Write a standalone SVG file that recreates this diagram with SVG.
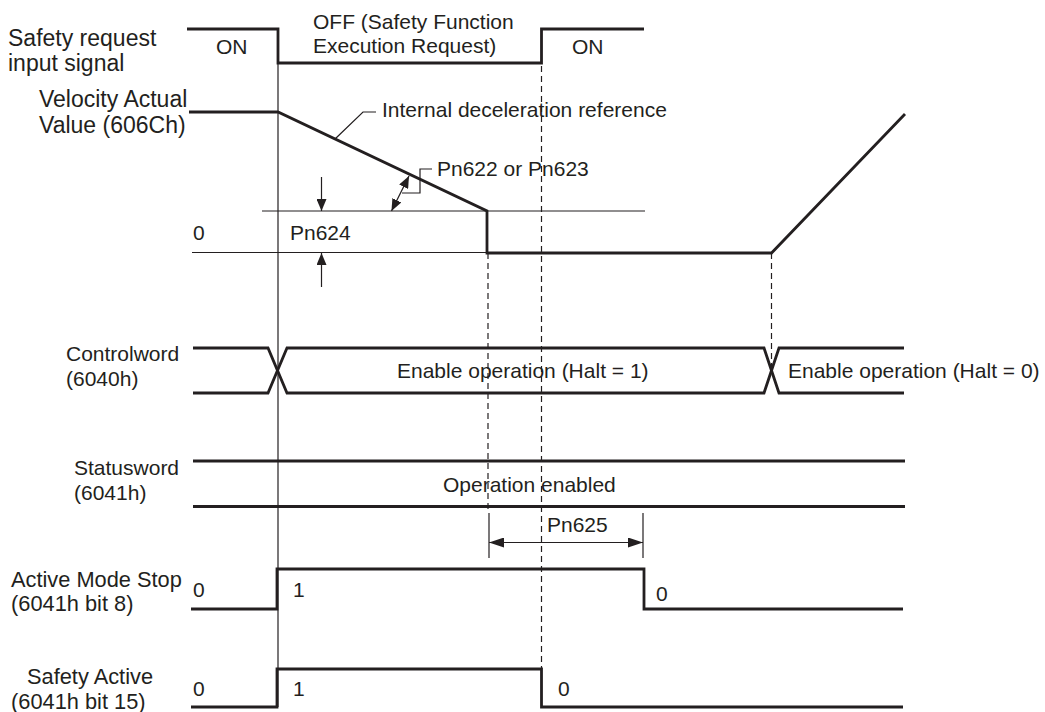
<svg xmlns="http://www.w3.org/2000/svg" width="1045" height="712" viewBox="0 0 1045 712">
<style>
text{font-family:"Liberation Sans",Arial,sans-serif;font-size:21px;fill:#231f20}
text.big{font-size:23px}
.sig{fill:none;stroke:#231f20;stroke-width:2.8;stroke-linejoin:miter}
.thin{fill:none;stroke:#231f20;stroke-width:1.2}
.dash{fill:none;stroke:#231f20;stroke-width:1.2;stroke-dasharray:6,4}
</style>
<defs>
<marker id="ah" viewBox="0 0 12 10" refX="12" refY="5" markerWidth="12" markerHeight="10" markerUnits="userSpaceOnUse" orient="auto-start-reverse">
<path d="M0,0 L12,5 L0,10 Z" fill="#231f20"/>
</marker>
<marker id="ah2" viewBox="0 0 15 10" refX="15" refY="5" markerWidth="15" markerHeight="10" markerUnits="userSpaceOnUse" orient="auto-start-reverse">
<path d="M0,0 L15,5 L0,10 Z" fill="#231f20"/>
</marker>
</defs>

<g id="labels">
<text class="big" x="8" y="46">Safety request</text>
<text class="big" x="8" y="71">input signal</text>
<text class="big" x="39" y="107">Velocity Actual</text>
<text class="big" x="39" y="133">Value (606Ch)</text>
<text x="66" y="361">Controlword</text>
<text x="66" y="386">(6040h)</text>
<text x="74" y="475">Statusword</text>
<text x="74" y="500">(6041h)</text>
<text x="11" y="587" style="font-size:21.8px">Active Mode Stop</text>
<text x="11" y="611" style="font-size:21.8px">(6041h bit 8)</text>
<text x="27" y="684" style="font-size:21.8px">Safety Active</text>
<text x="11" y="709" style="font-size:21.8px">(6041h bit 15)</text>
</g>

<g id="safety-request">
<path class="sig" d="M187,29 H278 V63 H541.5 V29 H644"/>
<text x="216" y="54">ON</text>
<text x="313" y="29">OFF (Safety Function</text>
<text x="313" y="53">Execution Request)</text>
<text x="572" y="54">ON</text>
</g>

<g id="velocity">
<path class="thin" d="M262,211 H645"/>
<path class="thin" d="M192,252.5 H488"/>
<path class="sig" d="M189,112 H278 L487,211 V253 H771.5 L905,114"/>
<text x="193" y="240">0</text>
<text x="290" y="240">Pn624</text>
<text x="382" y="117">Internal deceleration reference</text>
<text x="437" y="176">Pn622 or Pn623</text>
</g>

<g id="controlword">
<path class="sig" d="M193,348 H268 L287,393 H764 L779,348 H904"/>
<path class="sig" d="M193,393 H268 L287,348 H764 L779,393 H904"/>
<text x="397" y="378">Enable operation (Halt = 1)</text>
<text x="788" y="378">Enable operation (Halt = 0)</text>
</g>

<g id="statusword">
<path class="sig" d="M193,461 H905"/>
<path class="sig" d="M193,506.5 H905"/>
<text x="443" y="492">Operation enabled</text>
</g>

<g id="active-mode-stop">
<path class="sig" d="M191,609 H277 V569 H644 V609 H903"/>
<text x="193" y="597">0</text>
<text x="293" y="597">1</text>
<text x="656" y="601">0</text>
</g>

<g id="safety-active">
<path class="sig" d="M191,707 H277 V669 H541.5 V707 H903"/>
<text x="193" y="696">0</text>
<text x="293" y="696">1</text>
<text x="558" y="696">0</text>
</g>

<g id="connectors">
<path class="thin" d="M278,63 V707"/>
<path class="dash" d="M541.5,66 V669"/>
<path class="dash" d="M488,253 V513"/>
<path class="dash" d="M771.5,253 V370"/>
<path class="thin" d="M335,139 L363,112 H376"/>
<path class="thin" d="M432,169 H420 V193 H402"/>
<path class="thin" d="M409,176 L391.5,211" marker-start="url(#ah)" marker-end="url(#ah)"/>
<path class="thin" d="M321.5,177 V211" marker-end="url(#ah)"/>
<path class="thin" d="M321.5,287 V253" marker-end="url(#ah)"/>
<path class="thin" d="M489,513 V558"/>
<path class="thin" d="M643,513 V558"/>
<path class="thin" d="M489,542.5 H643" marker-start="url(#ah2)" marker-end="url(#ah2)"/>
<text x="547" y="532">Pn625</text>
</g>
</svg>
